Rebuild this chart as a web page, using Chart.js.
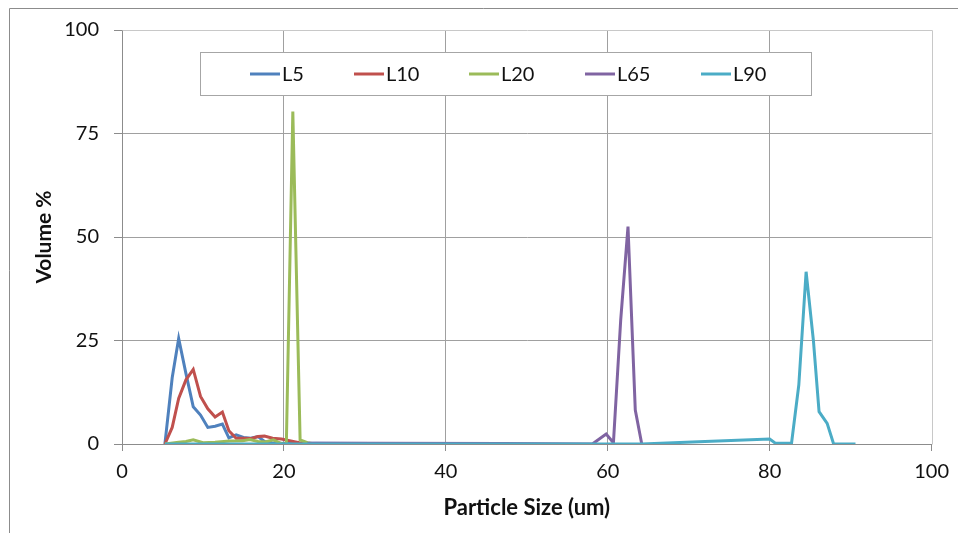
<!DOCTYPE html>
<html>
<head>
<meta charset="utf-8">
<script src="https://cdn.jsdelivr.net/npm/chart.js@4"></script>
<style>
  html, body { margin: 0; padding: 0; background: #fff; }
  #wrap { width: 958px; height: 533px; }
</style>
</head>
<body>
<div id="wrap"><canvas id="c" width="958" height="533"></canvas></div>
<script>
// ---- Data ----
const seriesLabels = ['L5', 'L10', 'L20', 'L65', 'L90'];
const seriesColors = ['#4F81BD', '#C0504D', '#9BBB59', '#8064A2', '#4BACC6'];

const L5_x  = [5.3, 6.2, 7.0, 7.9, 8.8, 9.7, 10.6, 11.5, 12.4, 13.2, 14.1, 15.0, 15.9, 16.8, 17.6, 18.5, 19.4, 20.3, 24.0, 31.0];
const L5_y  = [0, 16, 25.5, 17, 9, 7, 4, 4.3, 4.8, 1.5, 2.2, 1.6, 1.4, 1.8, 0.6, 0.3, 0.2, 0.1, 0.2, 0.1];

const L10_x = [5.3, 6.2, 7.0, 7.9, 8.8, 9.7, 10.6, 11.5, 12.4, 13.2, 14.1, 15.0, 15.9, 16.8, 17.6, 18.6, 19.7, 20.7, 21.9, 22.9];
const L10_y = [0, 4, 11, 15.5, 18, 11.5, 8.5, 6.5, 7.7, 3.2, 1.4, 1.4, 1.3, 1.8, 1.9, 1.4, 1.2, 0.8, 0.3, 0];

const L20_x = [5.3, 7.0, 7.9, 8.8, 10.0, 11.5, 13.3, 14.9, 15.8, 16.8, 17.7, 18.7, 19.8, 20.3, 21.1, 22.0, 22.9, 23.8];
const L20_y = [0, 0.4, 0.6, 1.0, 0.3, 0.4, 0.7, 0.8, 1.1, 0.6, 0.5, 1.0, 0, 0, 80.3, 1.0, 0.3, 0];

const L65_x = [22.9, 31.0, 47.0, 58.1, 59.8, 60.7, 61.6, 62.5, 63.4, 64.2];
const L65_y = [0.2, 0.2, 0.1, 0, 2.4, 0.3, 30, 52.5, 8.2, 0];

const L90_x = [5.3, 64.2, 72.0, 80.0, 80.7, 82.7, 83.6, 84.5, 85.4, 86.1, 87.1, 87.9, 90.6];
const L90_y = [0, 0, 0.6, 1.2, 0.2, 0.2, 14.3, 41.6, 25, 7.8, 5, 0, 0];

const xTickValues = [0, 20, 40, 60, 80, 100];
const yTickValues = [0, 25, 50, 75, 100];
const xTitle = 'Particle Size (um)';
const yTitle = 'Volume %';

// ---- Build datasets ----
function pts(xs, ys) { return xs.map((x, i) => ({ x: x, y: ys[i] })); }
const allX = [L5_x, L10_x, L20_x, L65_x, L90_x];
const allY = [L5_y, L10_y, L20_y, L65_y, L90_y];
const datasets = seriesLabels.map((lab, i) => ({
  label: lab,
  data: pts(allX[i], allY[i]),
  borderColor: seriesColors[i],
  backgroundColor: seriesColors[i],
  borderWidth: 3,
  pointRadius: 0,
  pointHoverRadius: 0,
  showLine: true,
  tension: 0,
  fill: false,
  order: seriesLabels.length - 1 - i
}));

const FONT = 'Lato, "Open Sans", sans-serif';

const decor = {
  id: 'decor',
  beforeDatasetsDraw(chart) {
    const { ctx, chartArea: a } = chart;
    ctx.save();
    ctx.lineWidth = 1;
    ctx.strokeStyle = '#C8C8C8';
    ctx.beginPath();
    ctx.moveTo(Math.round(a.left) + 0.5, Math.round(a.top) + 0.5);
    ctx.lineTo(Math.round(a.right) + 0.5, Math.round(a.top) + 0.5);
    ctx.lineTo(Math.round(a.right) + 0.5, Math.round(a.bottom) + 0.5);
    ctx.stroke();
    ctx.restore();
  },
  afterDraw(chart) {
    const { ctx } = chart;
    ctx.save();
    // outer frame (cut at right/bottom as in the reference)
    ctx.strokeStyle = '#8C8C8C';
    ctx.lineWidth = 1;
    ctx.beginPath();
    ctx.moveTo(9.5, 533);
    ctx.lineTo(9.5, 8.5);
    ctx.lineTo(958, 8.5);
    ctx.stroke();

    // legend box
    const bx = 200.5, by = 52.5, bw = 611, bh = 43;
    ctx.fillStyle = '#fff';
    ctx.fillRect(bx, by, bw, bh);
    ctx.strokeStyle = '#A6A6A6';
    ctx.strokeRect(bx, by, bw, bh);
    const lineStarts = [250, 354, 469, 585, 701];
    const cy = by + bh / 2;
    ctx.font = '20px ' + FONT;
    ctx.textBaseline = 'middle';
    ctx.textAlign = 'left';
    chart.data.datasets.forEach((ds, i) => {
      const x0 = lineStarts[i];
      ctx.strokeStyle = ds.borderColor;
      ctx.lineWidth = 3;
      ctx.beginPath();
      ctx.moveTo(x0, cy);
      ctx.lineTo(x0 + 30, cy);
      ctx.stroke();
      ctx.fillStyle = '#111';
      ctx.fillText(ds.label, x0 + 32, cy + 1);
    });
    ctx.restore();
  }
};

new Chart(document.getElementById('c'), {
  type: 'scatter',
  data: { datasets },
  plugins: [decor],
  options: {
    responsive: false,
    devicePixelRatio: 1,
    animation: false,
    layout: { padding: { top: 30, right: 25, left: 0, bottom: 0 } },
    plugins: {
      legend: { display: false },
      tooltip: { enabled: false }
    },
    scales: {
      x: {
        type: 'linear',
        min: 0, max: 100,
        afterBuildTicks(scale) { scale.ticks = xTickValues.map(v => ({ value: v })); },
        afterFit(scale) { scale.height = 89; },
        ticks: { color: '#111', font: { family: FONT, size: 20 }, padding: 9, maxRotation: 0 },
        grid: {
          color: (c) => (c.tick && (c.tick.value === 0 || c.tick.value === 100)) ? 'rgba(0,0,0,0)' : '#A0A0A0',
          borderDash: [2, 2],
          tickColor: '#8C8C8C',
          tickBorderDash: [],
          tickLength: 7,
          lineWidth: 1
        },
        border: { display: true, color: '#8C8C8C', width: 1 },
        title: { display: true, text: xTitle, color: '#111', font: { family: FONT, size: 22, weight: 'bold' }, padding: { top: 0, bottom: 12 } }
      },
      y: {
        type: 'linear',
        min: 0, max: 100,
        afterBuildTicks(scale) { scale.ticks = yTickValues.map(v => ({ value: v })); },
        afterFit(scale) { scale.width = 122; },
        ticks: { color: '#111', font: { family: FONT, size: 20 }, padding: 15 },
        grid: {
          color: (c) => (c.tick && (c.tick.value === 0 || c.tick.value === 100)) ? 'rgba(0,0,0,0)' : '#A0A0A0',
          borderDash: [2, 2],
          tickColor: '#8C8C8C',
          tickBorderDash: [],
          tickLength: 8,
          lineWidth: 1
        },
        border: { display: true, color: '#8C8C8C', width: 1 },
        title: { display: true, text: yTitle, color: '#111', font: { family: FONT, size: 21, weight: 'bold' }, padding: { top: 32, bottom: 0 } }
      }
    }
  }
});
</script>
</body>
</html>
